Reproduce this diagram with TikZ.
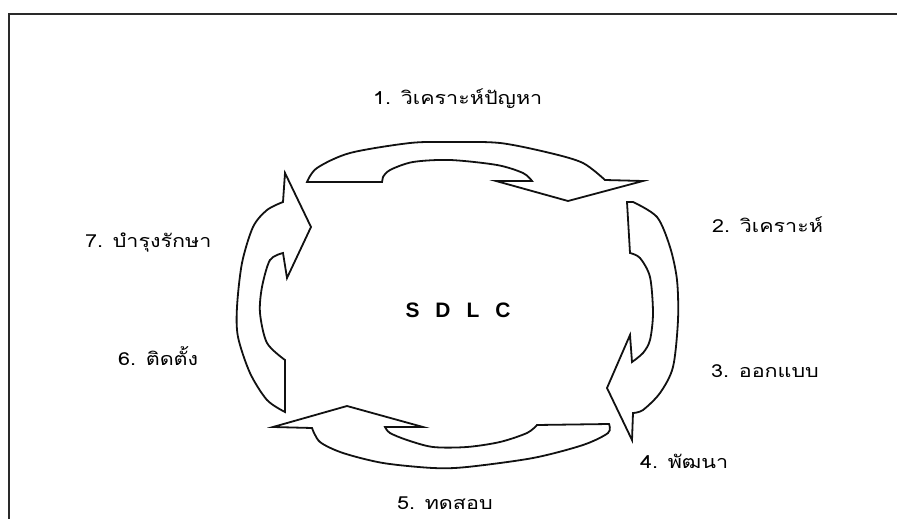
\documentclass[tikz,border=0pt]{standalone}
\usepackage{fontspec}
\usepackage{tikz}
\newfontfamily\thaifont[Script=Thai,FakeStretch=1.2]{Loma}
\newfontfamily\sdlcfont{Liberation Sans}
\definecolor{figink}{HTML}{111111}
\definecolor{figframe}{HTML}{2A2A2A}

\begin{document}
\begin{tikzpicture}[x=1bp,y=-1bp,
  every node/.style={font=\thaifont\fontsize{18}{21}\selectfont,inner sep=0pt},
  blockarrow/.style={draw=figink,line width=1.8bp,line join=miter,fill=white}]
\useasboundingbox (0,0) rectangle (897,519);
% frame, open to the right and bottom
\draw[figframe,line width=2bp] (9,519)--(9,14)--(897,14);

% 1 -> 2 (top)
\draw[blockarrow] (307,182)
  -- plot[smooth] coordinates {(307,182) (317,168) (350,153) (410,143) (450,142) (500,143) (550,153) (583,163) (605,180)}
  -- (643,181) -- (568,201) -- (496,181) -- (532,181)
  -- plot[smooth] coordinates {(532,181) (523,173) (497,165) (450,160) (413,162) (390,170) (383,177)}
  -- (382,182) -- cycle;
% 2 -> 3 (right)
\draw[blockarrow] (627,202)
  -- plot[smooth] coordinates {(633,202) (657,217) (670,247) (677,280) (678,320) (673,367) (660,393) (643,410) (633,413)}
  -- (632,440) -- (607,388) -- (630,335) -- (632,362)
  -- plot[smooth] coordinates {(632,362) (643,353) (650,340) (653,313) (650,277) (640,258) (630,253)}
  -- cycle;
% 4 -> 5 (bottom)
\draw[blockarrow] (609,424)
  -- plot[smooth] coordinates {(609,424) (608,433) (583,445) (533,458) (467,467) (433,468) (383,463) (343,453) (320,442) (312,428)}
  -- (273,427) -- (347,406) -- (423,427) -- (385,427)
  -- plot[smooth] coordinates {(385,427) (390,433) (407,440) (433,447) (467,447) (500,442) (527,433) (537,425)}
  -- cycle;
% 6 -> 7 (left)
\draw[blockarrow] (285,412)
  -- plot[smooth] coordinates {(285,412) (267,400) (250,373) (238,337) (237,307) (242,263) (253,227) (267,210) (283,202)}
  -- (285,173) -- (311,227) -- (287,278) -- (283,253)
  -- plot[smooth] coordinates {(283,253) (270,260) (262,287) (260,313) (267,343) (285,360)}
  -- cycle;

\node[font=\sdlcfont\bfseries\fontsize{21}{24}\selectfont] (sdlc) at (458,310)
  {S\hspace{16bp}D\hspace{16bp}L\hspace{16bp}C};

\foreach \name/\x/\y/\label in {
  s1/373/105/{1. วิเคราะห์ปัญหา},
  s2/712/233/{2. วิเคราะห์},
  s3/711/377/{3. ออกแบบ},
  s4/640/468/{4. พัฒนา},
  s5/397/509/{5. ทดสอบ},
  s6/118/365/{6. ติดตั้ง},
  s7/85/248/{7. บำรุงรักษา}} {
  \node[anchor=base west] (\name) at (\x,\y) {\label};
}
\end{tikzpicture}
\end{document}
